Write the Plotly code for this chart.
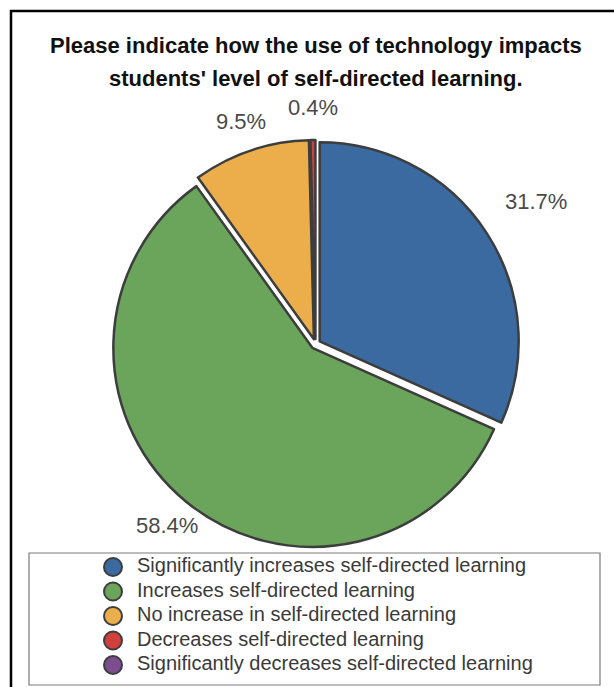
import math
import plotly.graph_objects as go

# Survey responses (percent of respondents)
categories = [
    "Significantly increases self-directed learning",
    "Increases self-directed learning",
    "No increase in self-directed learning",
    "Decreases self-directed learning",
    "Significantly decreases self-directed learning",
]
percentages = [31.7, 58.4, 9.5, 0.4, 0.0]
colors = ["#3b6aa0", "#6aa55b", "#ebae4a", "#d0413d", "#7d4e8f"]

title_lines = [
    "Please indicate how the use of technology impacts",
    "students' level of self-directed learning.",
]

# ---- layout geometry (pixels) ----
W, H = 614, 687
cx, cy, r = 315.5, 344.0, 199.0
pull = 0.025
half = r * (1 + pull)
label_dist = [1.32, 1.18, 1.18, 1.19, 1.19]

FONT = "Liberation Sans, Arial, sans-serif"
OUTLINE = "#3d3d3d"

# only slices with a non-zero share are drawn in the pie
shown = [i for i, v in enumerate(percentages) if v > 0]
pie_vals = [percentages[i] for i in shown]

fig = go.Figure()
fig.add_trace(go.Pie(
    labels=[categories[i] for i in shown],
    values=pie_vals,
    marker=dict(colors=[colors[i] for i in shown], line=dict(color=OUTLINE, width=2.5)),
    sort=False,
    direction="clockwise",
    rotation=0,
    pull=pull,
    textinfo="none",
    hoverinfo="label+percent",
    showlegend=False,
    domain=dict(x=[(cx - half) / W, (cx + half) / W],
                y=[1 - (cy + half) / H, 1 - (cy - half) / H]),
))

# percentage labels placed along each slice's bisector
annotations = []
total = sum(pie_vals)
cum = 0.0
for i in shown:
    v = percentages[i]
    theta = 2 * math.pi * (cum + v / 2) / total
    px = cx + label_dist[i] * r * math.sin(theta)
    py = cy - label_dist[i] * r * math.cos(theta)
    annotations.append(dict(
        x=px / W, y=1 - py / H, xref="paper", yref="paper",
        text=f"{v:.1f}%", showarrow=False, xanchor="center", yanchor="middle",
        font=dict(family=FONT, size=22, color="#4a4a4a"),
    ))
    cum += v

# two-line bold title
for j, line in enumerate(title_lines):
    annotations.append(dict(
        x=cx / W, y=1 - (45 + 33 * j) / H, xref="paper", yref="paper",
        text=f"<b>{line}</b>", showarrow=False, xanchor="center", yanchor="middle",
        font=dict(family=FONT, size=22, color="#111111"),
    ))

# legend: circle markers with labels, one row per category
rows = list(range(len(categories)))
row0, step = 567.0, 24.5
fig.add_trace(go.Scatter(
    x=[113 / W] * len(categories), y=rows, mode="markers",
    marker=dict(size=18, color=colors, line=dict(color=OUTLINE, width=2)),
    hoverinfo="skip", showlegend=False, cliponaxis=False,
))
fig.add_trace(go.Scatter(
    x=[137 / W] * len(categories), y=rows, mode="text", text=categories,
    textposition="middle right",
    textfont=dict(family=FONT, size=20, color="#3a3a3a"),
    hoverinfo="skip", showlegend=False, cliponaxis=False,
))

shapes = [
    # outer frame
    dict(type="rect", xref="paper", yref="paper",
         x0=11 / W, x1=1.2, y0=-0.2, y1=1 - 11 / H,
         line=dict(color="#000000", width=2.5)),
    # legend box
    dict(type="rect", xref="paper", yref="paper",
         x0=29 / W, x1=600 / W, y0=1 - 685 / H, y1=1 - 553 / H,
         line=dict(color="#7a7a7a", width=1.2)),
]

fig.update_layout(
    width=W, height=H,
    margin=dict(l=0, r=0, t=0, b=0),
    paper_bgcolor="white", plot_bgcolor="rgba(0,0,0,0)",
    xaxis=dict(visible=False, range=[0, 1], domain=[0, 1], fixedrange=True),
    yaxis=dict(visible=False, domain=[0, 1], fixedrange=True,
               range=[(H - row0) / step, -row0 / step]),
    annotations=annotations,
    shapes=shapes,
    showlegend=False,
)

fig.write_html("out.html")
